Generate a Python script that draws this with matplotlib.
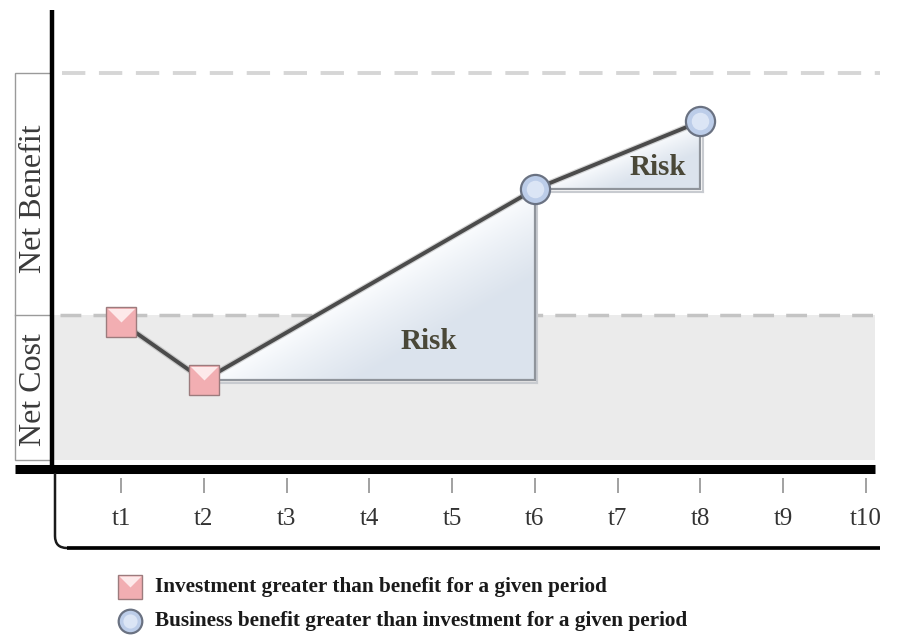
import numpy as np
import matplotlib
matplotlib.use("Agg")
import matplotlib.pyplot as plt
from matplotlib.path import Path
from matplotlib.patches import Polygon, PathPatch, Rectangle
from matplotlib.markers import MarkerStyle

# ---- data -------------------------------------------------------------
periods = ["t1", "t2", "t3", "t4", "t5", "t6", "t7", "t8", "t9", "t10"]
path_periods = [1, 2, 6, 8]            # periods where the net position is observed
path_values = [-0.3, -2.7, 5.2, 8.0]   # net position (negative = net cost)
risk_segments = [(1, 2), (2, 3)]       # index pairs of path points that enclose a risk area
risk_labels = ["Risk", "Risk"]
risk_label_pos = [(4.72, -1.1), (7.48, 6.1)]
cost_floor = -6.0
benefit_ceiling = 10.0
legend_texts = ["Investment greater than benefit for a given period",
                "Business benefit greater than investment for a given period"]
side_labels = ["Net Benefit", "Net Cost"]

# ---- figure / scales --------------------------------------------------
W, H = 899, 644
fig = plt.figure(figsize=(W / 100, H / 100), dpi=100)
ax = fig.add_axes([0, 0, 1, 1])
ax.axis("off")

PX = (866 - 121) / 9.0     # pixels per period
PY = 24.2                  # pixels per value unit
xmin = 1 - 121 / PX
ymin = 0 - (H - 315) / PY
ax.set_xlim(xmin, xmin + W / PX)
ax.set_ylim(ymin, ymin + H / PY)


def X(px):
    return xmin + px / PX


def Y(py):
    return ymin + (H - py) / PY


serif = ["Liberation Serif", "DejaVu Serif"]

# ---- background band and guides ---------------------------------------
ax.add_patch(Rectangle((X(52), cost_floor), X(875) - X(52), 0 - cost_floor,
                       facecolor="#ebebeb", edgecolor="none", zorder=1))
ax.plot([X(60), X(875)], [0, 0], color="#c4c4c4", lw=2.5,
        dashes=(6, 3.5), zorder=2)
ax.plot([X(62), X(880)], [benefit_ceiling] * 2, color="#d6d6d6", lw=2.8,
        dashes=(6, 3.5), zorder=2)

# side label boxes
box_x0, box_x1 = X(15), X(52)
ax.add_patch(Rectangle((box_x0, cost_floor), box_x1 - box_x0,
                       benefit_ceiling - cost_floor, facecolor="white",
                       edgecolor="#9a9a9a", lw=1.0, zorder=2))
ax.plot([box_x0, box_x1], [0, 0], color="#9a9a9a", lw=1.0, zorder=2)
ax.text((box_x0 + box_x1) / 2, benefit_ceiling / 2 - 0.2, side_labels[0],
        rotation=90, ha="center", va="center", fontsize=23,
        family=serif, color="#3a3a3a", zorder=3)
ax.text((box_x0 + box_x1) / 2, cost_floor / 2 - 0.1, side_labels[1],
        rotation=90, ha="center", va="center", fontsize=23,
        family=serif, color="#3a3a3a", zorder=3)

# axes lines
ax.plot([X(52), X(52)], [Y(10), Y(472)], color="black", lw=3.2,
        solid_capstyle="butt", zorder=6)
ax.plot([X(15), X(875)], [Y(469), Y(469)], color="black", lw=6.5,
        solid_capstyle="butt", zorder=6)

# bracket under the time axis
r = 12
verts = [(X(55), Y(473)), (X(55), Y(548 - r)), (X(55), Y(548)),
         (X(55 + r), Y(548)), (X(880), Y(548))]
codes = [Path.MOVETO, Path.LINETO, Path.CURVE3, Path.CURVE3, Path.LINETO]
ax.add_patch(PathPatch(Path(verts, codes), facecolor="none",
                       edgecolor="#1a1a1a", lw=1.8, zorder=6))
ax.plot([X(67), X(880)], [Y(548), Y(548)], color="black", lw=2.6,
        solid_capstyle="butt", zorder=6)

# ticks and tick labels
xs = np.arange(1, len(periods) + 1)
ax.vlines(xs, Y(493), Y(478), color="#9a9a9a", lw=1.3, zorder=6)
for x, lab in zip(xs, periods):
    ax.text(x, Y(519), lab, ha="center", va="center", fontsize=18,
            family=serif, color="#333333", zorder=6)

# ---- risk triangles ----------------------------------------------------
base_rgb = np.array([0.862, 0.892, 0.93])
for (i0, i1), lab, (lx, ly) in zip(risk_segments, risk_labels, risk_label_pos):
    x0, y0 = path_periods[i0], path_values[i0]
    x1, y1 = path_periods[i1], path_values[i1]
    tri = Polygon([(x0, y0), (x1, y0), (x1, y1)], closed=True,
                  facecolor="none", edgecolor="none", zorder=3)
    ax.add_patch(tri)
    n = 200
    u, v = np.meshgrid(np.linspace(0, 1, n), np.linspace(0, 1, n))
    t = np.clip((u - v) / 0.45, 0, 1) ** 0.8
    img = (1 - t)[..., None] * np.array([0.99, 0.995, 1.0]) + t[..., None] * base_rgb
    im = ax.imshow(img, extent=[x0, x1, y0, y1], origin="lower",
                   aspect="auto", zorder=3, interpolation="bilinear")
    im.set_clip_path(tri)
    # shadowed right and bottom edges
    ax.plot([x0 + 0.15, x1, x1], [y0, y0, y1], color="#8f949b", lw=1.6,
            zorder=3.5, solid_joinstyle="miter")
    ax.plot([x0 + 0.15, x1 + 0.03], [y0 - 0.1, y0 - 0.1], color="#c8cbd0",
            lw=1.5, zorder=3.4)
    ax.plot([x1 + 0.03, x1 + 0.03], [y0 - 0.1, y1], color="#c8cbd0",
            lw=1.5, zorder=3.4)
    ax.text(lx, ly, lab, ha="center", va="center", fontsize=21,
            fontweight="bold", family=serif, color="#4a4838", zorder=7)

# ---- net position path -------------------------------------------------
ax.plot(path_periods, path_values, color="#8a8a8a", lw=4.5, alpha=0.35,
        zorder=3.9, solid_capstyle="round")
ax.plot(path_periods, path_values, color="#4b4b4b", lw=2.8, zorder=4,
        solid_capstyle="round")

bow = MarkerStyle(Path([(-1, 1), (1, 1), (0, 0), (-1, 1)],
                       [Path.MOVETO, Path.LINETO, Path.LINETO, Path.CLOSEPOLY]))


def cost_marker(axis, x, y, size, **kw):
    axis.plot(x, y, marker="s", ms=size, mfc="#f2aeb2", mec="#9c7b7d",
              mew=1.0, ls="none", zorder=5, **kw)
    axis.plot(x, y, marker=bow, ms=size * 0.93, mfc="#fde9ea", mec="none",
              ls="none", zorder=5.1, **kw)


def benefit_marker(axis, x, y, size, **kw):
    axis.plot(x, y, marker="o", ms=size, mfc="#bccde9", mec="#6a7282",
              mew=1.6, ls="none", zorder=5, **kw)
    axis.plot(x, y, marker="o", ms=size * 0.6, mfc="#dfe8f7", mec="none",
              ls="none", zorder=5.1, alpha=0.9, **kw)


for x, y in zip(path_periods, path_values):
    if y < 0:
        cost_marker(ax, x, y, 21)
    else:
        benefit_marker(ax, x, y, 21)

# ---- legend ------------------------------------------------------------
for k, (txt, py) in enumerate(zip(legend_texts, [587, 621])):
    if k == 0:
        cost_marker(ax, X(130), Y(py), 17)
    else:
        benefit_marker(ax, X(130), Y(py), 17)
    ax.text(X(155), Y(py), txt, ha="left", va="center", fontsize=15.3,
            fontweight="bold", family=serif, color="#1a1a1a", zorder=7)

fig.savefig("out.png", dpi=100)
